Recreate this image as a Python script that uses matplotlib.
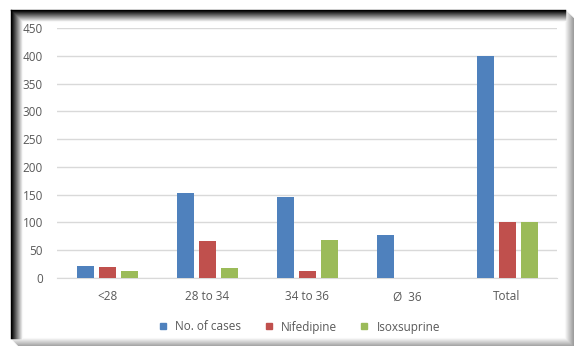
import numpy as np
import matplotlib.pyplot as plt
from matplotlib.lines import Line2D

# --- Data ---
categories = ["<28", "28 to 34", "34 to 36", "Ø  36", "Total"]
cases = [22, 153, 145, 78, 400]
nifedipine = [20, 67, 12, 0, 100]
isoxsuprine = [12, 18, 69, 0, 100]
series_names = ["No. of cases", "Nifedipine", "Isoxsuprine"]
colors = ["#4F81BD", "#C0504D", "#9BBB59"]

W, H = 574, 346
fig = plt.figure(figsize=(W / 100, H / 100), dpi=100)
plt.rcParams["font.family"] = ["Open Sans", "DejaVu Sans"]

ax = fig.add_axes([57 / W, 1 - 278 / H, 500 / W, 250 / H])
x = np.arange(len(categories))
bw, step = 0.17, 0.22
for i, (vals, c) in enumerate(zip([cases, nifedipine, isoxsuprine], colors)):
    ax.bar(x + (i - 1) * step, vals, bw, color=c, zorder=3)

ax.set_xlim(-0.5, len(categories) - 0.5)
ax.set_ylim(0, 450)
ax.set_yticks(range(0, 451, 50))
ax.set_xticks(x)
ax.set_xticklabels(categories)
ax.grid(axis="y", color="#D9D9D9", linewidth=1, zorder=0)
for s in ["top", "right", "left"]:
    ax.spines[s].set_visible(False)
ax.spines["bottom"].set_color("#D9D9D9")
ax.tick_params(length=0, labelsize=8.5, labelcolor="#595959", pad=10)
ax.tick_params(axis="x", pad=9)

handles = [Line2D([], [], marker="s", linestyle="", color=c, markersize=5) for c in colors]
fig.legend(handles, series_names, loc="center", bbox_to_anchor=(0.515, 1 - 327 / H),
           ncol=3, frameon=False, fontsize=8.5, labelcolor="#595959",
           handletextpad=0.05, columnspacing=1.3)

# --- Frame with shadow ---
def fx(px):
    return px / W

def fy(py):
    return 1 - py / H

# outer shadow right / bottom (darker outward)
for k in range(9):
    g = 0.98 - k * 0.045
    col = (g, g, g)
    fig.add_artist(Line2D([fx(565 + k), fx(565 + k)], [fy(10 + k), fy(338 + k)], color=col, lw=1.0))
    fig.add_artist(Line2D([fx(11 + k), fx(565 + k)], [fy(338 + k), fy(338 + k)], color=col, lw=1.0))

# inner shadow left / top (black line fading to white)
for k in range(11, -1, -1):
    g = min(1.0, k * 0.09)
    col = (g, g, g)
    fig.add_artist(Line2D([fx(11 + k), fx(11 + k)], [fy(10 + k), fy(338)], color=col, lw=1.0))
    fig.add_artist(Line2D([fx(11 + k), fx(565)], [fy(10 + k), fy(10 + k)], color=col, lw=1.0))

fig.savefig("out.png", dpi=100)
